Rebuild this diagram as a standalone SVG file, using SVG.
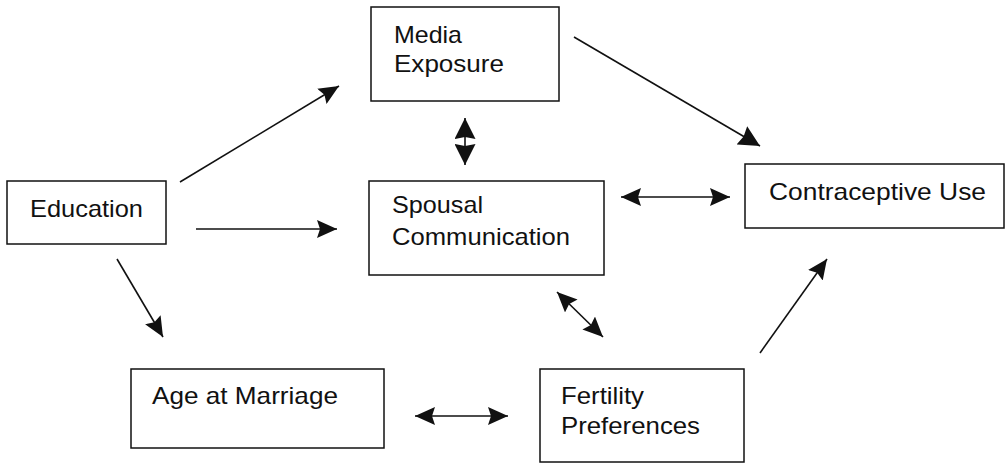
<svg xmlns="http://www.w3.org/2000/svg" width="1008" height="464" viewBox="0 0 1008 464">
  <style>
    .box { fill: #ffffff; stroke: #111111; stroke-width: 1.5; }
    .lbl { font-family: "Liberation Sans", Arial, sans-serif; font-size: 24px; fill: #111111; }
    .link { stroke: #111111; stroke-width: 1.6; fill: none; }
  </style>
  <defs>
    <marker id="head" viewBox="0 0 20 18" refX="20" refY="9" markerWidth="20" markerHeight="18" markerUnits="userSpaceOnUse" orient="auto-start-reverse">
      <path d="M0,0 L20,9 L0,18 L3,9 Z" fill="#111111"/>
    </marker>
    <marker id="headLg" viewBox="0 0 21 21" refX="21" refY="10.5" markerWidth="21" markerHeight="21" markerUnits="userSpaceOnUse" orient="auto-start-reverse">
      <path d="M0,0 L21,10.5 L0,21 L2,10.5 Z" fill="#111111"/>
    </marker>
  </defs>

  <rect width="1008" height="464" fill="#ffffff"/>

  <g id="connectors">
    <!-- Education -> Media Exposure -->
    <line class="link" x1="180" y1="182" x2="339" y2="86" marker-end="url(#head)"/>
    <!-- Education -> Spousal Communication -->
    <line class="link" x1="196" y1="229" x2="337" y2="229" marker-end="url(#head)"/>
    <!-- Education -> Age at Marriage -->
    <line class="link" x1="117" y1="259" x2="163" y2="337" marker-end="url(#head)"/>
    <!-- Media Exposure <-> Spousal Communication -->
    <line class="link" x1="465" y1="118" x2="465" y2="165" marker-start="url(#headLg)" marker-end="url(#headLg)"/>
    <!-- Media Exposure -> Contraceptive Use -->
    <line class="link" x1="574" y1="37" x2="760" y2="146" marker-end="url(#headLg)"/>
    <!-- Spousal Communication <-> Contraceptive Use -->
    <line class="link" x1="621" y1="197" x2="730" y2="197" marker-start="url(#head)" marker-end="url(#head)"/>
    <!-- Spousal Communication <-> Fertility Preferences -->
    <line class="link" x1="557" y1="292" x2="603" y2="337" marker-start="url(#head)" marker-end="url(#head)"/>
    <!-- Age at Marriage <-> Fertility Preferences -->
    <line class="link" x1="415" y1="416" x2="508" y2="416" marker-start="url(#head)" marker-end="url(#head)"/>
    <!-- Fertility Preferences -> Contraceptive Use -->
    <line class="link" x1="760" y1="353" x2="827" y2="259" marker-end="url(#head)"/>
  </g>

  <g id="node-media">
    <rect class="box" x="371" y="7" width="188" height="94"/>
    <text class="lbl" x="394" y="43" textLength="68" lengthAdjust="spacingAndGlyphs">Media</text>
    <text class="lbl" x="394" y="72" textLength="110" lengthAdjust="spacingAndGlyphs">Exposure</text>
  </g>

  <g id="node-education">
    <rect class="box" x="7" y="181" width="159" height="63"/>
    <text class="lbl" x="30" y="217" textLength="113" lengthAdjust="spacingAndGlyphs">Education</text>
  </g>

  <g id="node-spousal">
    <rect class="box" x="369" y="181" width="235" height="94"/>
    <text class="lbl" x="392" y="213" textLength="91" lengthAdjust="spacingAndGlyphs">Spousal</text>
    <text class="lbl" x="392" y="245" textLength="178" lengthAdjust="spacingAndGlyphs">Communication</text>
  </g>

  <g id="node-contraceptive">
    <rect class="box" x="745" y="164" width="259" height="64"/>
    <text class="lbl" x="769" y="200" textLength="217" lengthAdjust="spacingAndGlyphs">Contraceptive Use</text>
  </g>

  <g id="node-age">
    <rect class="box" x="131" y="369" width="253" height="79"/>
    <text class="lbl" x="152" y="404" textLength="186" lengthAdjust="spacingAndGlyphs">Age at Marriage</text>
  </g>

  <g id="node-fertility">
    <rect class="box" x="540" y="369" width="204" height="93"/>
    <text class="lbl" x="561" y="404" textLength="83" lengthAdjust="spacingAndGlyphs">Fertility</text>
    <text class="lbl" x="561" y="434" textLength="139" lengthAdjust="spacingAndGlyphs">Preferences</text>
  </g>
</svg>
